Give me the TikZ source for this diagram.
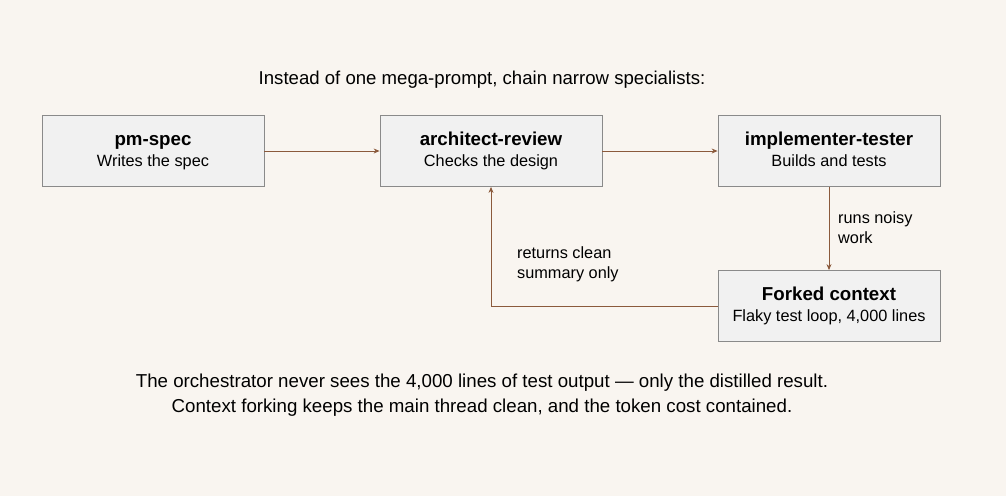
\documentclass[tikz,border=0pt]{standalone}
\usepackage{fontspec}
\setmainfont{Liberation Sans}
\usetikzlibrary{arrows.meta}
\definecolor{bg}{HTML}{F9F5F0}
\definecolor{boxf}{HTML}{F1F1F1}
\definecolor{boxd}{HTML}{8A8A8A}
\definecolor{arr}{HTML}{8B5A3C}
\newcommand{\bx}[2]{{\fontsize{18.7}{22}\selectfont\bfseries\vphantom{Agp}#1}\\[1pt]\vphantom{Agp}#2}
\begin{document}
\begin{tikzpicture}[x=1pt,y=-1pt,
 box/.style={draw=boxd,fill=boxf,line width=0.8pt,minimum width=222pt,minimum height=71pt,align=center,inner sep=0pt,font=\fontsize{16.3}{20}\selectfont},
 conn/.style={draw=arr,line width=0.8pt,-{Stealth[length=6pt,width=5pt]}},
 lbl/.style={align=left,font=\fontsize{16.3}{20}\selectfont,inner sep=0pt,anchor=north west}]
\fill[bg] (0,0) rectangle (1006,496);
\useasboundingbox (0,0) rectangle (1006,496);
\node[font=\fontsize{18.6}{22}\selectfont] (title) at (482,80) {Instead of one mega-prompt, chain narrow specialists:};
\node[box] (pm) at (153,151) {\bx{pm-spec}{Writes the spec}};
\node[box] (ar) at (491,151) {\bx{architect-review}{Checks the design}};
\node[box] (im) at (829,151) {\bx{implementer-tester}{Builds and tests}};
\node[box] (fk) at (829,306) {\bx{Forked context}{Flaky test loop, 4,000 lines}};
\draw[conn] (pm) -- (ar);
\draw[conn] (ar) -- (im);
\draw[conn] (im) -- (fk);
\draw[conn] (fk.west) -| (ar.south);
\node[lbl] (l1) at (838,211) {runs noisy\\work};
\node[lbl] (l2) at (517,246) {returns clean\\summary only};
\node[align=center,font=\fontsize{18.7}{25}\selectfont] (foot) at (482,395) {The orchestrator never sees the 4,000 lines of test output — only the distilled result.\\Context forking keeps the main thread clean, and the token cost contained.};
\end{tikzpicture}
\end{document}
